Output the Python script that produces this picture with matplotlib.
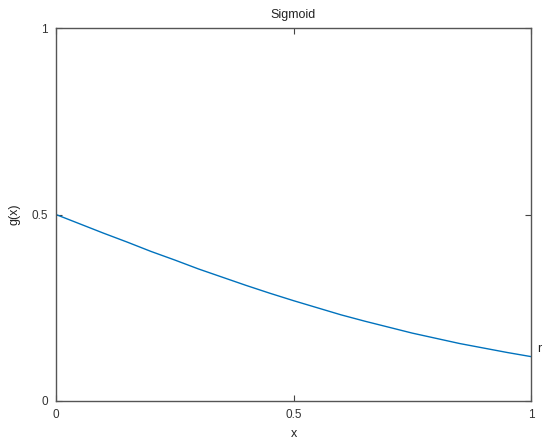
import numpy as np
import matplotlib
matplotlib.use("Agg")
import matplotlib.pyplot as plt

plt.rcParams['font.family'] = ['Liberation Sans', 'DejaVu Sans']

# values
x_vals = [0.00, 0.05, 0.10, 0.15, 0.20, 0.25, 0.30, 0.35, 0.40, 0.45, 0.50,
          0.55, 0.60, 0.65, 0.70, 0.75, 0.80, 0.85, 0.90, 0.95, 1.00]
g_vals = [0.500, 0.475, 0.450, 0.426, 0.401, 0.378, 0.354, 0.332, 0.310, 0.289, 0.269,
          0.250, 0.231, 0.214, 0.198, 0.182, 0.168, 0.154, 0.142, 0.130, 0.119]
ticks = [0, 0.5, 1]
tick_labels = ['0', '0.5', '1']

fig = plt.figure(figsize=(5.5, 4.45), dpi=100)
ax = fig.add_axes([0.1018, 0.0989, 0.8637, 0.8381])

ax.plot(x_vals, g_vals, color='#0072BD', linewidth=1.0)
# curve label at the right end
ax.text(1.012, g_vals[-1] + 0.02, 'r', fontsize=9, color='#222222',
        ha='left', va='center', clip_on=False)

ax.set_xlim(0, 1)
ax.set_ylim(0, 1)
ax.set_xticks(ticks)
ax.set_xticklabels(tick_labels)
ax.set_yticks(ticks)
ax.set_yticklabels(tick_labels)
ax.tick_params(direction='in', length=4, width=0.8, color='#444444',
               labelsize=8.5, labelcolor='#333333',
               top=True, right=True, pad=6)
for s in ax.spines.values():
    s.set_color('#555555')
    s.set_linewidth(1.0)

ax.set_xlabel('x', fontsize=9, color='#222222', labelpad=5)
ax.set_ylabel('g(x)', fontsize=9, color='#222222', labelpad=8)
ax.set_title('Sigmoid', fontsize=9, color='#222222', pad=7)

fig.savefig('out.png', dpi=100)
